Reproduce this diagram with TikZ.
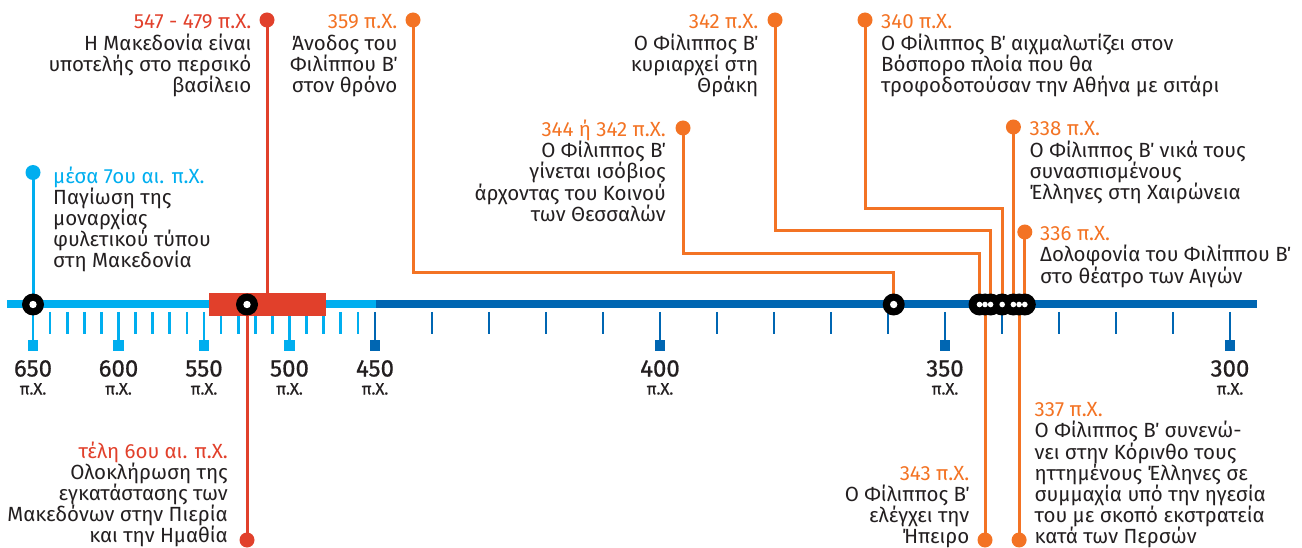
\documentclass[tikz,border=0pt]{standalone}
\usepackage{fontspec}
\setmainfont{Fira Sans}
\newfontfamily\numfont[FakeBold=0.7]{Fira Sans}
\definecolor{lblue}{HTML}{00AEEF}
\definecolor{dblue}{HTML}{0066B2}
\definecolor{tred}{HTML}{E1402B}
\definecolor{orng}{HTML}{F37324}
\definecolor{ink}{HTML}{231F20}
\begin{document}
\begin{tikzpicture}[x=1pt,y=-1pt,
  body/.style={font=\fontsize{20.5}{21.2}\selectfont, inner sep=0pt, text=ink},
  lab/.style={body, align=left, anchor=base west},
  labr/.style={body, align=right, anchor=base east},
  dot/.style={circle, fill=#1, minimum size=15pt, inner sep=0pt},
  conn/.style={draw=#1, line width=3pt},
  ringb/.style={circle, fill=black, minimum size=22pt, inner sep=0pt},
  ringw/.style={circle, fill=white, minimum size=7.4pt, inner sep=0pt},
  ringws/.style={circle, fill=white, minimum size=5.6pt, inner sep=0pt},
  tick/.style={line width=2.7pt},
  num/.style={font=\numfont\fontsize{24}{24}\selectfont, text=ink, inner sep=0pt, anchor=base},
  unit/.style={font=\numfont\fontsize{16.5}{16.5}\selectfont, text=ink, inner sep=0pt, anchor=base},
]
\useasboundingbox (0,0) rectangle (1302,548);
% axis
\draw[lblue, line width=8pt] (7,304.5) -- (376,304.5);
\draw[dblue, line width=8pt] (376,304.5) -- (1257,304.5);
% light ticks
\foreach \i in {1,2,3,4,6,7,8,9,11,12,13,14,16,17,18,19} {
  \draw[lblue, tick] ({33+\i*17.1},312) -- ({33+\i*17.1},334);
}
\foreach \i/\yr in {0/650,5/600,10/550,15/500} {
  \draw[lblue, tick] ({33+\i*17.1},312) -- ({33+\i*17.1},341);
  \fill[lblue] ({33+\i*17.1-5.35},340) rectangle ++(10.7,10.7);
  \node[num] at ({33+\i*17.1},376.5) {\yr};
  \node[unit] at ({33+\i*17.1},394.5) {π.Χ.};
}
\foreach \k in {1,2,3,4,6,7,8,9,11,12,13,14} {
  \draw[dblue, tick] ({375+\k*57},312) -- ({375+\k*57},334);
}
\foreach \k/\yr in {0/450,5/400,10/350,15/300} {
  \draw[dblue, tick] ({375+\k*57},312) -- ({375+\k*57},341);
  \fill[dblue] ({375+\k*57-5.35},340) rectangle ++(10.7,10.7);
  \node[num] at ({375+\k*57},376.5) {\yr};
  \node[unit] at ({375+\k*57},394.5) {π.Χ.};
}
% coordinates
\coordinate (d650) at (33,172.5);
\coordinate (r650) at (33,304.5);
\coordinate (d547) at (267,20);
\coordinate (rectTop) at (267,293);
\coordinate (r525) at (247,304.5);
\coordinate (d525) at (247,540);
\coordinate (d359) at (413,20);
\coordinate (r359) at (893.7,304.5);
\coordinate (d344) at (683,128);
\coordinate (r344) at (979.5,304.5);
\coordinate (d342) at (775,20);
\coordinate (r342) at (990.6,304.5);
\coordinate (d340) at (865,20);
\coordinate (r340) at (1002.2,304.5);
\coordinate (d338) at (1013.4,127);
\coordinate (r338) at (1013.4,304.5);
\coordinate (d336) at (1024.8,232);
\coordinate (r336) at (1024.8,304.5);
\coordinate (r343) at (985,304.5);
\coordinate (d343) at (985,540);
\coordinate (r337) at (1019.1,304.5);
\coordinate (d337) at (1019.1,540);
% connectors
\draw[conn=lblue] (d650) -- (r650);
\draw[conn=tred] (d547) -- (rectTop);
\draw[conn=tred] (r525) -- (d525);
\draw[conn=orng] (d359) -- ++(0,253) -| (r359);
\draw[conn=orng] (d344) -- ++(0,126) -| (r344);
\draw[conn=orng] (d342) -- ++(0,211) -| (r342);
\draw[conn=orng] (d340) -- ++(0,189) -| (r340);
\draw[conn=orng] (d338) -- (r338);
\draw[conn=orng] (d336) -- (r336);
\draw[conn=orng] (r343) -- (d343);
\draw[conn=orng] (r337) -- (d337);
% red period box
\node[fill=tred, minimum width=116.4pt, minimum height=23.3pt, inner sep=0pt] (period) at (267.5,304.5) {};
% dots
\node[dot=lblue] at (d650) {};
\node[dot=tred] at (d547) {};
\node[dot=tred] at (d525) {};
\foreach \n in {d359,d344,d342,d340,d338,d336,d343,d337} { \node[dot=orng] at (\n) {}; }
% rings
\foreach \n in {r650,r525,r359,r344,r343,r342,r340,r338,r337,r336} { \node[ringb] at (\n) {}; }
\foreach \n in {r650,r525,r359} { \node[ringw] at (\n) {}; }
\foreach \n in {r344,r343,r342,r340,r338,r337,r336} { \node[ringws] at (\n) {}; }
% labels (anchor = baseline of last line)
\node[lab] (t650) at (53,267.8) {\textcolor{lblue}{μέσα 7ου αι. π.Χ.}\\Παγίωση της\\μοναρχίας\\φυλετικού τύπου\\στη Μακεδονία};
\node[labr] (t547) at (251.5,92.6) {\textcolor{tred}{547 - 479 π.Χ.}\\Η Μακεδονία είναι\\υποτελής στο περσικό\\βασίλειο};
\node[labr] (t525) at (228,542.8) {\textcolor{tred}{τέλη 6ου αι. π.Χ.}\\Ολοκλήρωση της\\εγκατάστασης των\\Μακεδόνων στην Πιερία\\και την Ημαθία};
\node[labr] (t359) at (397.5,92.6) {\textcolor{orng}{359 π.Χ.}\\Άνοδος του\\Φιλίππου Β΄\\στον θρόνο};
\node[labr] (t344) at (666,221.3) {\textcolor{orng}{344 ή 342 π.Χ.}\\Ο Φίλιππος Β΄\\γίνεται ισόβιος\\άρχοντας του Κοινού\\των Θεσσαλών};
\node[labr] (t342) at (758.5,92.6) {\textcolor{orng}{342 π.Χ.}\\Ο Φίλιππος Β΄\\κυριαρχεί στη\\Θράκη};
\node[lab] (t340) at (881,92.6) {\textcolor{orng}{340 π.Χ.}\\Ο Φίλιππος Β΄ αιχμαλωτίζει στον\\Βόσπορο πλοία που θα\\τροφοδοτούσαν την Αθήνα με σιτάρι};
\node[lab] (t338) at (1029.5,199.6) {\textcolor{orng}{338 π.Χ.}\\Ο Φίλιππος Β΄ νικά τους\\συνασπισμένους\\Έλληνες στη Χαιρώνεια};
\node[lab] (t336) at (1040,283.1) {\textcolor{orng}{336 π.Χ.}\\Δολοφονία του Φιλίππου Β΄\\στο θέατρο των Αιγών};
\node[labr] (t343) at (969.5,543.6) {\textcolor{orng}{343 π.Χ.}\\Ο Φίλιππος Β΄\\ελέγχει την\\Ήπειρο};
\node[lab] (t337) at (1034.5,543.9) {\textcolor{orng}{337 π.Χ.}\\Ο Φίλιππος Β΄ συνενώ-\\νει στην Κόρινθο τους\\ηττημένους Έλληνες σε\\συμμαχία υπό την ηγεσία\\του με σκοπό εκστρατεία\\κατά των Περσών};
\end{tikzpicture}
\end{document}
